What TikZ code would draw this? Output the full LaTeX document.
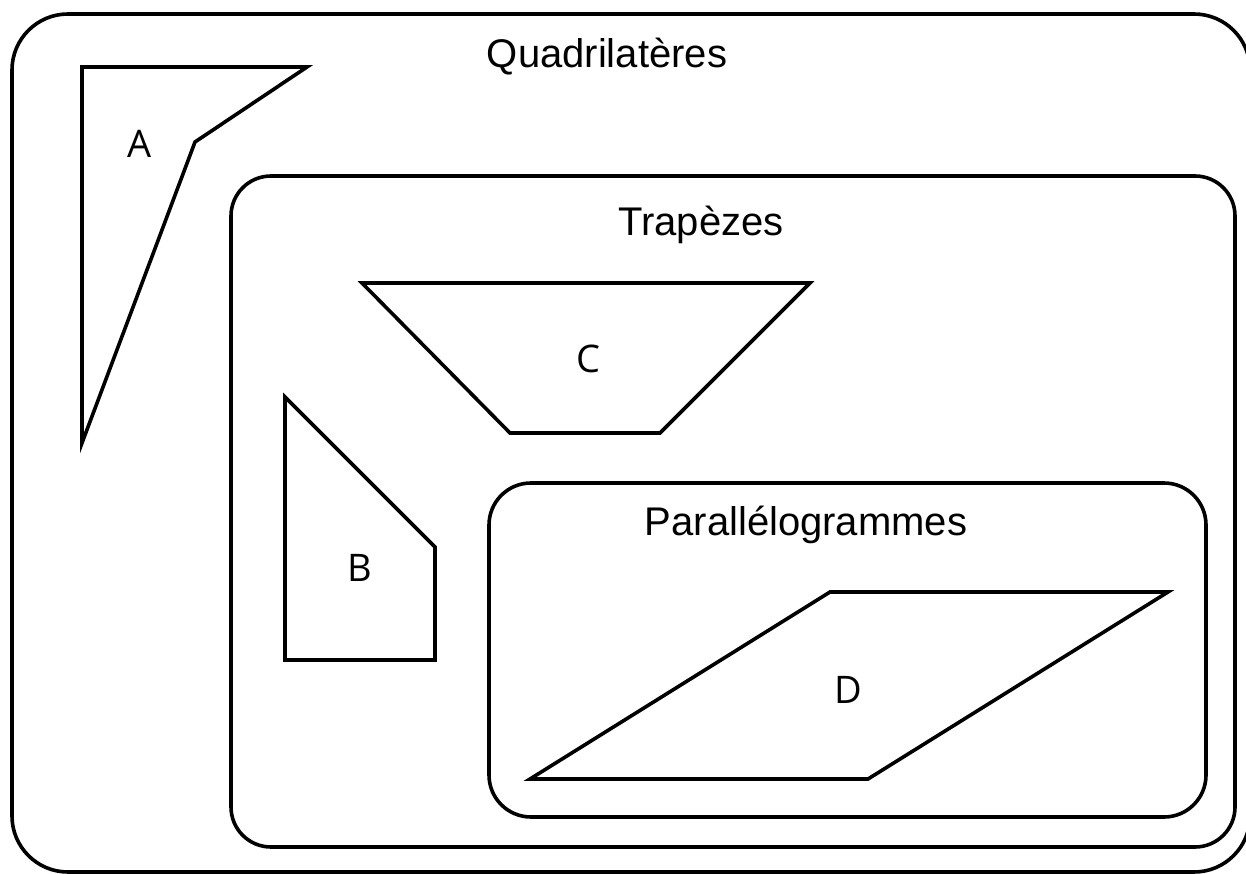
\documentclass[tikz,border=0pt]{standalone}
\usepackage{fontspec}
\setmainfont{Liberation Sans}
\newfontfamily\labelfont{Open Sans}
\begin{document}
\begin{tikzpicture}[x=1pt,y=-1pt,
  frame/.style={draw=black,line width=3.6pt,rounded corners=#1},
  shapeline/.style={draw=black,line width=3.6pt,line join=miter},
  title/.style={font=\fontsize{40}{44}\selectfont,anchor=base,inner sep=0pt},
  letter/.style={font=\labelfont\fontsize{38}{42}\selectfont,inner sep=0pt}]
\useasboundingbox (0,0) rectangle (1246,874);
\clip (0,0) rectangle (1246,874);
\fill[white] (0,0) rectangle (1246,874);
% frames
\draw[frame=56pt] (12,14) rectangle (1250,872);
\draw[frame=40pt] (231,176) rectangle (1235,847);
\draw[frame=42pt] (489,483) rectangle (1206,817);
% titles
\node[title] (tq) at (607,68) {Quadrilatères};
\node[title] (tt) at (701,236) {Trapèzes};
\node[title] (tp) at (806,535) {Parallélogrammes};
% shapes
\draw[shapeline] (82,67) -- (307,67) -- (195,142) -- (82,443) -- cycle;
\draw[shapeline] (285,397) -- (435,547) -- (435,660) -- (285,660) -- cycle;
\draw[shapeline] (362,283) -- (810,283) -- (660,433) -- (510,433) -- cycle;
\draw[shapeline] (830,592) -- (1168,592) -- (868,779) -- (530,779) -- cycle;
% labels
\node[letter] (la) at (140,144) {A};
\node[letter] (lb) at (360,568) {B};
\node[letter] (lc) at (588,359) {C};
\node[letter] (ld) at (848,690) {D};
\end{tikzpicture}
\end{document}
